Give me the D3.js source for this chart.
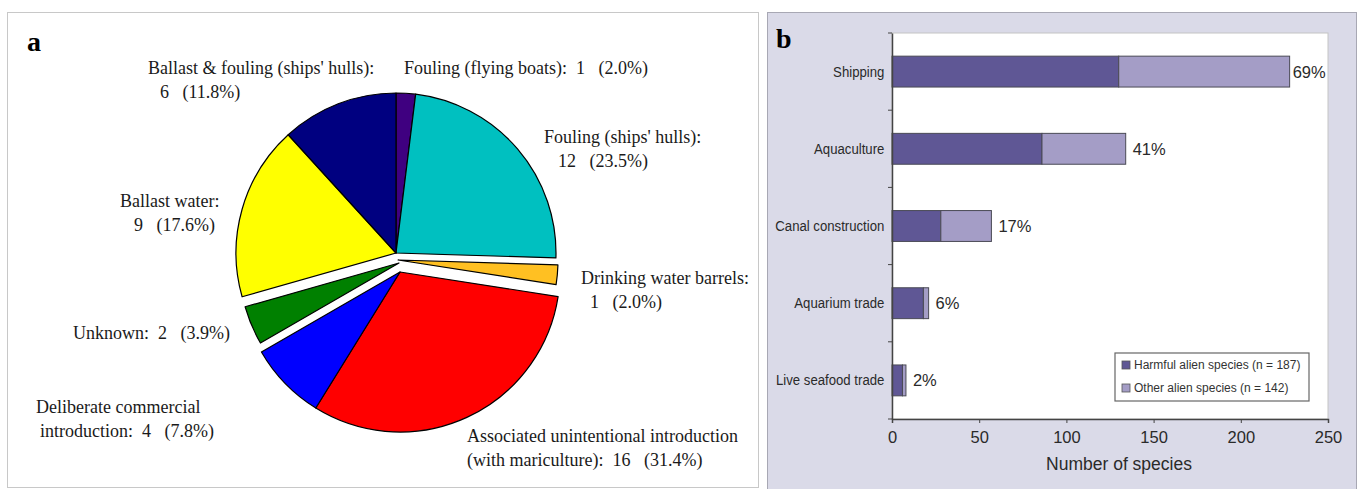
<!DOCTYPE html>
<html>
<head>
<meta charset="utf-8">
<script src="https://cdn.jsdelivr.net/npm/d3@7"></script>
<style>
  html, body { margin: 0; padding: 0; background: #fff; }
  svg { display: block; }
  .serif { font-family: "Liberation Serif", "Times New Roman", serif; }
  .sans  { font-family: "Liberation Sans", Arial, sans-serif; }
</style>
</head>
<body>
<svg id="chart" width="1358" height="489"></svg>
<script>
// --- data: panel a (pie) ----------------------------------------------------
const pieCategories = [
  "Fouling (flying boats):",
  "Fouling (ships' hulls):\n",
  "Drinking water barrels:\n",
  "Associated unintentional introduction\n(with mariculture):",
  "Deliberate commercial\nintroduction:",
  "Unknown:",
  "Ballast water:\n",
  "Ballast & fouling (ships' hulls):\n"
];
const pieValues = [1, 12, 1, 16, 4, 2, 9, 6];

// --- data: panel b (stacked bars) --------------------------------------------
const barCategories = ["Shipping", "Aquaculture", "Canal construction", "Aquarium trade", "Live seafood trade"];
const harmfulValues = [130, 86, 28, 18, 6];
const otherValues   = [98, 48, 29, 3, 2];
const shareLabels   = ["69%", "41%", "17%", "6%", "2%"];
const seriesNames   = ["Harmful alien species (n = 187)", "Other alien species (n = 142)"];
const xTicks        = [0, 50, 100, 150, 200, 250];

(function(){
  const svg = d3.select('#chart');

  // --- panel a ---------------------------------------------------------------
  svg.append('rect').attr('x', 7.5).attr('y', 12.5).attr('width', 751).attr('height', 475)
    .attr('fill', '#fff').attr('stroke', '#c8c8c8');
  svg.append('text').attr('class', 'serif').attr('x', 27).attr('y', 51)
    .attr('font-size', 28).attr('font-weight', 'bold').text('a');

  const pieColors = ['#3f0080', '#00c0c0', '#ffc022', '#ff0000', '#0000ff', '#008000', '#ffff00', '#000080'];
  // slice shifts (exploded pieces), px
  const shift = [[0,0],[0,0],[2,7],[4,19],[4,19],[3,10],[0,0],[0,0]];
  const cx = 396, cy = 253, R = 160;

  const arcs = d3.pie().sort(null).value(d => d)(pieValues);
  const arc = d3.arc().innerRadius(0).outerRadius(R);
  svg.append('g').attr('transform', `translate(${cx},${cy})`)
    .selectAll('path').data(arcs).join('path')
    .attr('transform', (d, i) => `translate(${shift[i][0]},${shift[i][1]})`)
    .attr('d', arc)
    .attr('fill', (d, i) => pieColors[i])
    .attr('stroke', '#000').attr('stroke-width', 1.2).attr('stroke-linejoin', 'round');

  const total = d3.sum(pieValues);
  const labelPos = [
    [404, 74], [544, 143], [581, 284], [467, 442], [36, 413], [73, 339], [120, 207], [148, 74]
  ];
  const lineIndent = [0, 14, 9, 0, 4, 0, 14, 12];
  pieCategories.forEach((name, i) => {
    const pct = (pieValues[i] / total * 100).toFixed(1);
    const parts = name.split('\n');
    const last = parts.length - 1;
    const tail = `${pieValues[i]}   (${pct}%)`;
    parts[last] = parts[last] ? parts[last] + '  ' + tail : tail;
    const t = svg.append('text').attr('class', 'serif').attr('font-size', 18)
      .attr('fill', '#1a1a1a').style('white-space', 'pre');
    parts.forEach((line, k) => {
      t.append('tspan').attr('x', labelPos[i][0] + (k > 0 ? lineIndent[i] : 0))
        .attr('y', labelPos[i][1] + k * 24).text(line);
    });
  });

  // --- panel b ---------------------------------------------------------------
  svg.append('rect').attr('x', 767.5).attr('y', 12.5).attr('width', 589).attr('height', 480)
    .attr('fill', '#dadae8').attr('stroke', '#a8a8b4');
  svg.append('text').attr('class', 'serif').attr('x', 776).attr('y', 48)
    .attr('font-size', 28).attr('font-weight', 'bold').text('b');

  const x = d3.scaleLinear().domain([0, 250]).range([892, 1328]);
  const y = d3.scaleBand().domain(barCategories).range([33, 419]).paddingInner(0.6).paddingOuter(0.3);

  svg.append('rect').attr('x', 892).attr('y', 33).attr('width', 436).attr('height', 386)
    .attr('fill', '#fff').attr('stroke', '#c4c4c4');

  const barColors = ['#5f5795', '#a49dc6'];
  const stacked = d3.stack().keys([0, 1])(barCategories.map((c, i) => [harmfulValues[i], otherValues[i]]));
  svg.append('g').selectAll('g').data(stacked).join('g')
    .attr('fill', (d, i) => barColors[i])
    .selectAll('rect').data(d => d).join('rect')
    .attr('x', d => x(d[0]))
    .attr('y', (d, i) => y(barCategories[i]))
    .attr('width', d => x(d[1]) - x(d[0]))
    .attr('height', y.bandwidth())
    .attr('stroke', '#4a4a55').attr('stroke-width', 1);

  svg.append('g').attr('class', 'sans').selectAll('text').data(shareLabels).join('text')
    .attr('x', (d, i) => x(harmfulValues[i] + otherValues[i]) + (i === 0 ? 3 : 7))
    .attr('y', (d, i) => y(barCategories[i]) + y.bandwidth() / 2 + 6)
    .attr('font-size', 16.5).attr('fill', '#2a2a2a').text(d => d);

  // axes
  const xAxis = svg.append('g').attr('class', 'sans').attr('transform', 'translate(0,419)')
    .call(d3.axisBottom(x).tickValues(xTicks).tickSize(4).tickPadding(8));
  xAxis.select('.domain').attr('stroke', '#444').attr('stroke-width', 1.5);
  xAxis.selectAll('.tick line').attr('stroke', '#444');
  xAxis.selectAll('.tick text').attr('font-size', 16.5).attr('fill', '#2a2a2a');

  const yAxis = svg.append('g').attr('class', 'sans').attr('transform', 'translate(892,0)')
    .call(d3.axisLeft(y).tickSize(0).tickPadding(8));
  yAxis.select('.domain').attr('stroke', '#444').attr('stroke-width', 1.5);
  // labels in the original are tall and narrow
  yAxis.selectAll('.tick text').attr('font-size', 15.5).attr('fill', '#2a2a2a')
    .attr('x', -9).attr('transform', 'scale(0.85,1)');
  const bounds = d3.range(barCategories.length + 1).map(k => 33 + k * y.step());
  svg.append('g').selectAll('line').data(bounds).join('line')
    .attr('x1', 888).attr('x2', 892).attr('y1', d => d).attr('y2', d => d)
    .attr('stroke', '#444');

  svg.append('text').attr('class', 'sans').attr('x', 1119).attr('y', 470)
    .attr('text-anchor', 'middle').attr('font-size', 17.5).attr('fill', '#2a2a2a')
    .text('Number of species');

  // legend
  const lg = svg.append('g').attr('transform', 'translate(1115,353)');
  lg.append('rect').attr('width', 194).attr('height', 48).attr('fill', '#fff')
    .attr('stroke', '#666').attr('stroke-width', 1.2);
  seriesNames.forEach((s, i) => {
    lg.append('rect').attr('x', 7).attr('y', 8 + i * 23).attr('width', 8).attr('height', 8)
      .attr('fill', barColors[i]).attr('stroke', '#555').attr('stroke-width', 0.8);
    lg.append('text').attr('class', 'sans').attr('x', 19).attr('y', 16 + i * 23)
      .attr('font-size', 12).attr('fill', '#333').text(s);
  });
})();
</script>
</body>
</html>
